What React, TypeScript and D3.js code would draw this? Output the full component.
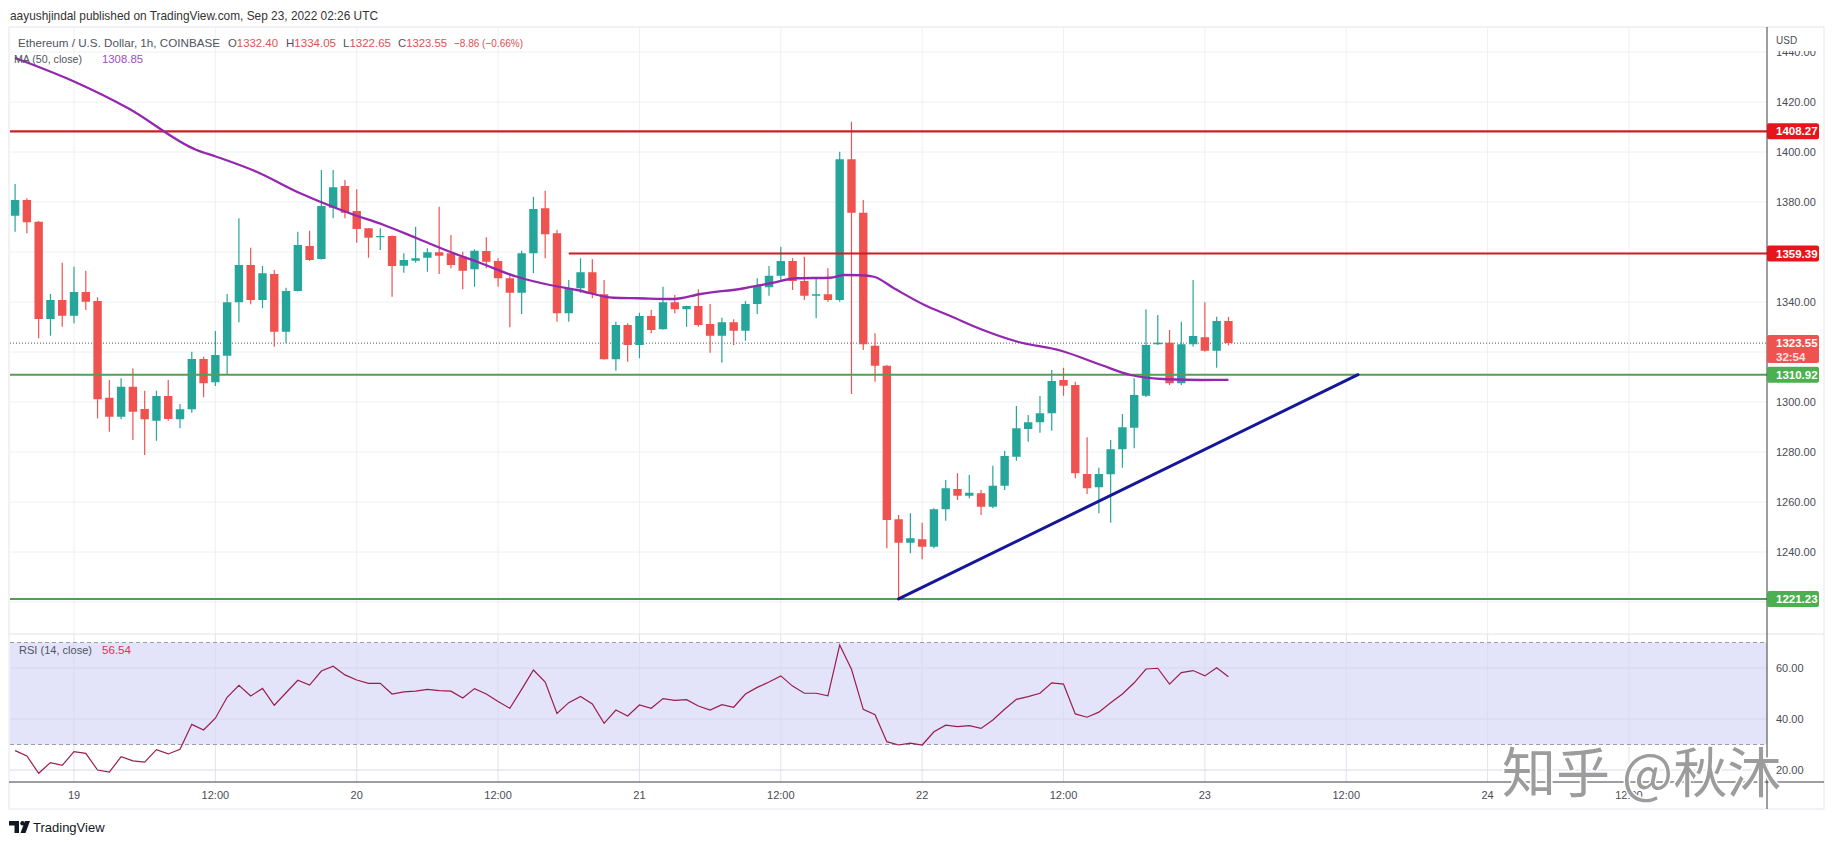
import * as d3 from 'd3'

const W = 1834
const H = 845

// hour index 0 = Sep 19 00:00 UTC, first candle at Sep 18 19:00
const FIRST_HOUR = -5

const OPEN = [
  1374.5, 1380.8, 1372.1, 1333.2, 1340.8, 1334.5, 1344.0, 1340.4, 1301.7, 1294.1,
  1306.1, 1297.2, 1292.5, 1302.4, 1293.1, 1297.1, 1317.2, 1307.9, 1318.5, 1339.9,
  1354.8, 1340.8, 1351.2, 1328.1, 1344.4, 1362.4, 1357.2, 1377.7, 1386.4, 1376.4,
  1369.5, 1365.9, 1366.4, 1354.5, 1356.5, 1357.7, 1359.9, 1359.5, 1358.1, 1353.1,
  1360.4, 1356.4, 1349.5, 1343.7, 1359.5, 1377.5, 1367.5, 1335.5, 1345.5, 1351.9,
  1343.1, 1317.1, 1330.8, 1322.8, 1334.4, 1329.1, 1339.9, 1337.1, 1338.4, 1331.2,
  1326.5, 1331.9, 1328.5, 1339.2, 1345.9, 1350.5, 1356.4, 1348.4, 1342.5, 1343.1,
  1340.8, 1397.1, 1375.7, 1322.5, 1314.5, 1253.1, 1243.7, 1245.1, 1242.1, 1257.1,
  1265.2, 1262.5, 1263.5, 1258.1, 1266.5, 1278.1, 1289.2, 1291.9, 1295.5, 1308.8,
  1306.8, 1271.2, 1265.9, 1271.1, 1281.1, 1289.7, 1302.5, 1323.1, 1323.7, 1307.5,
  1323.1, 1325.9, 1320.5, 1332.4,
]
const HIGH = [
  1387.2, 1381.5, 1372.4, 1343.2, 1355.7, 1354.1, 1352.5, 1341.9, 1308.8, 1309.5,
  1313.5, 1304.5, 1304.5, 1308.8, 1299.2, 1320.1, 1318.1, 1328.4, 1343.2, 1373.5,
  1361.7, 1354.4, 1352.8, 1345.7, 1368.1, 1368.5, 1392.8, 1392.8, 1388.8, 1385.1,
  1369.6, 1369.5, 1366.6, 1359.5, 1370.1, 1361.5, 1378.1, 1366.8, 1360.1, 1361.1,
  1365.9, 1357.5, 1351.5, 1360.5, 1382.1, 1384.5, 1368.8, 1348.8, 1357.5, 1357.1,
  1348.8, 1332.1, 1331.5, 1335.7, 1336.8, 1346.1, 1342.8, 1338.5, 1345.1, 1339.2,
  1333.7, 1333.1, 1340.4, 1349.5, 1354.4, 1362.1, 1357.5, 1358.1, 1349.5, 1353.5,
  1400.1, 1412.1, 1380.8, 1327.5, 1314.8, 1254.8, 1255.5, 1251.7, 1257.5, 1268.8,
  1271.5, 1270.8, 1264.8, 1274.5, 1280.4, 1298.4, 1294.8, 1302.4, 1312.8, 1313.7,
  1308.1, 1285.9, 1273.7, 1284.8, 1295.2, 1309.5, 1337.1, 1334.8, 1328.8, 1332.1,
  1348.8, 1339.9, 1334.1, 1334.05,
]
const LOW = [
  1368.1, 1367.5, 1325.5, 1326.5, 1330.1, 1331.5, 1336.8, 1293.5, 1288.1, 1293.1,
  1284.8, 1278.8, 1284.5, 1292.5, 1289.5, 1295.7, 1301.9, 1306.4, 1311.2, 1331.9,
  1339.1, 1337.5, 1322.1, 1323.5, 1344.2, 1356.4, 1357.0, 1373.5, 1373.5, 1363.7,
  1357.7, 1360.8, 1342.1, 1351.7, 1355.7, 1352.1, 1351.2, 1353.5, 1345.1, 1346.1,
  1353.5, 1346.1, 1329.9, 1335.2, 1351.5, 1357.5, 1332.1, 1332.1, 1343.7, 1341.5,
  1317.0, 1312.5, 1316.1, 1317.5, 1327.5, 1329.0, 1335.5, 1330.1, 1330.1, 1319.7,
  1315.7, 1322.8, 1324.5, 1335.2, 1342.5, 1348.5, 1344.8, 1340.8, 1333.5, 1340.1,
  1340.1, 1303.2, 1320.8, 1308.1, 1241.5, 1221.2, 1239.5, 1237.1, 1241.5, 1252.5,
  1260.8, 1261.5, 1254.8, 1257.5, 1264.8, 1276.5, 1284.1, 1287.7, 1288.5, 1302.5,
  1269.5, 1263.2, 1255.5, 1251.7, 1273.7, 1281.5, 1302.0, 1322.8, 1306.8, 1306.8,
  1322.1, 1320.1, 1313.7, 1322.65,
]
const CLOSE = [
  1380.8, 1371.9, 1333.2, 1340.8, 1334.5, 1344.0, 1340.1, 1301.1, 1294.1, 1306.1,
  1296.1, 1293.1, 1302.4, 1293.2, 1297.1, 1317.2, 1307.5, 1318.8, 1339.9, 1354.8,
  1340.8, 1351.5, 1328.1, 1344.4, 1362.8, 1356.8, 1378.4, 1385.9, 1375.7, 1369.2,
  1365.7, 1366.4, 1354.4, 1356.8, 1357.5, 1359.9, 1358.5, 1354.8, 1352.5, 1360.5,
  1356.1, 1349.5, 1343.7, 1359.5, 1377.2, 1367.1, 1335.5, 1345.5, 1351.9, 1343.2,
  1317.1, 1330.8, 1322.8, 1334.4, 1328.8, 1339.9, 1337.1, 1338.4, 1330.8, 1326.5,
  1331.9, 1328.5, 1339.2, 1346.4, 1350.5, 1356.4, 1348.4, 1342.5, 1343.1, 1340.8,
  1397.1, 1375.7, 1323.1, 1314.5, 1252.8, 1243.7, 1245.5, 1242.1, 1257.1, 1265.5,
  1262.5, 1263.7, 1258.1, 1266.5, 1278.4, 1289.5, 1291.9, 1295.5, 1308.4, 1306.5,
  1271.5, 1265.5, 1271.2, 1281.1, 1289.9, 1302.8, 1322.8, 1323.7, 1307.5, 1323.1,
  1326.4, 1320.5, 1332.4, 1323.55,
]

const RSI = [
  27.6, 25.5, 18.7, 22.9, 21.8, 27.2, 26.5, 20.0, 19.2, 25.2,
  23.6, 23.1, 28.0, 26.3, 28.1, 37.9, 35.7, 40.3, 48.5, 53.2,
  49.0, 52.0, 45.4, 50.3, 55.2, 53.3, 58.8, 60.7, 57.3, 55.3,
  54.0, 54.0, 49.8, 50.6, 50.9, 51.6, 51.1, 50.9, 48.2, 51.9,
  49.8, 46.9, 44.2, 51.6, 59.2, 54.5, 42.2, 46.4, 48.8, 45.9,
  38.3, 43.5, 41.2, 45.5, 44.2, 48.0, 47.3, 47.6, 45.1, 43.5,
  45.6, 44.6, 49.8, 52.4, 54.5, 56.9, 52.9, 50.1, 50.1, 49.1,
  69.0, 59.5, 43.8, 41.7, 31.1, 29.8, 30.5, 29.8, 35.0, 37.6,
  37.0, 37.4, 36.3, 39.6, 43.8, 47.7, 48.8, 50.1, 54.2, 53.7,
  42.0, 40.7, 42.7, 46.4, 49.8, 54.2, 59.6, 59.9, 53.7, 58.2,
  59.0, 56.9, 60.1, 56.54,
]

// MA(50): [hour, value]
const MA_POINTS: [number, number][] = [
  [-5, 1437.6], [0, 1428.2], [4.6, 1417.5], [10.4, 1400.8], [12.1, 1398.1],
  [15.5, 1392.1], [19.2, 1383.5], [20.9, 1380.1], [23.4, 1375.5], [26.3, 1370.8],
  [29.1, 1365.5], [31.9, 1360.1], [34.5, 1355.6], [37.6, 1350.1], [40.4, 1346.8],
  [42.7, 1344.8], [45.8, 1341.7], [47.8, 1341.5], [50.9, 1341.2], [53.2, 1343.2],
  [56.9, 1345.5], [59.1, 1347.5], [61.4, 1349.5], [64.2, 1349.7], [65.4, 1350.8],
  [66.8, 1350.7], [67.9, 1350.1], [69.6, 1345.5], [72.2, 1338.8], [74.4, 1334.4],
  [77, 1329.1], [80.1, 1324.1], [83.8, 1320.5], [87.2, 1314.8], [89.7, 1310.8],
  [92.8, 1309.1], [95.7, 1308.8], [98, 1308.85],
]

const PRICE_GRID = [1220, 1240, 1260, 1280, 1300, 1320, 1340, 1360, 1380, 1400, 1420, 1440]
const PRICE_LABELS = [1240, 1260, 1280, 1300, 1340, 1380, 1400, 1420, 1440]
const RSI_TICKS = [20, 40, 60]
const TIME_TICKS: [number, string][] = [
  [0, '19'], [12, '12:00'], [24, '20'], [36, '12:00'], [48, '21'], [60, '12:00'],
  [72, '22'], [84, '12:00'], [96, '23'], [108, '12:00'], [120, '24'], [132, '12:00'],
]

const RES_HIGH = 1408.27
const RES_MID = 1359.39
const RES_MID_FROM = 42
const SUP_MID = 1310.92
const SUP_LOW = 1221.23
const LAST_PRICE = 1323.55
const TREND: [number, number][] = [[70, 1221.23], [109, 1310.92]]

const UP = '#26a69a'
const DOWN = '#ef5350'
const FONT = '"Liberation Sans", Arial, sans-serif'
const TXT = '#50535e'
const VAL_RED = '#d9534f'

const PANE_L = 10
const AXIS_X = 1767
const FRAME_R = 1824
const TOP = 27
const SPLIT = 634
const BOTTOM = 782
const FRAME_B = 809

export default function App() {
  const x = d3.scaleLinear().domain([0, 120]).range([74, 1487.6])
  const y = d3.scaleLinear().domain([1220, 1440]).range([602, 52])
  const ry = d3.scaleLinear().domain([20, 70]).range([770, 642.5])

  const hours = CLOSE.map((_, i) => FIRST_HOUR + i)
  const bw = 8.4

  const maLine = d3.line<[number, number]>()
    .x(d => x(d[0]))
    .y(d => y(d[1]))
    .curve(d3.curveMonotoneX)

  const rsiLine = d3.line<number>()
    .x((_, i) => x(hours[i]))
    .y(d => ry(d))

  const gridX = TIME_TICKS.map(t => x(t[0])).filter(v => v < AXIS_X)

  const tag = (price: number, fill: string, key: string) => (
    <g key={key}>
      <rect x={AXIS_X} y={y(price) - 8} width={52} height={16} rx={2} fill={fill} />
      <text x={1776} y={y(price)} dy="0.35em" fill="#fff" fontSize={11.5} fontWeight="bold" fontFamily={FONT}>
        {price.toFixed(2)}
      </text>
    </g>
  )

  // legend pieces: label, value, x, width
  const ohlc: [string, string, number, number][] = [
    ['O', '1332.40', 228, 50],
    ['H', '1334.05', 286, 50],
    ['L', '1322.65', 343, 48],
    ['C', '1323.55', 398, 49],
  ]

  return (
    <svg width={W} height={H} style={{ position: 'absolute', left: 0, top: 0, background: '#fff' }} fontFamily={FONT}>
      <defs>
        <clipPath id="main-clip">
          <rect x={PANE_L} y={TOP} width={AXIS_X - PANE_L} height={SPLIT - TOP} />
        </clipPath>
        <clipPath id="rsi-clip">
          <rect x={PANE_L} y={SPLIT} width={AXIS_X - PANE_L} height={BOTTOM - SPLIT} />
        </clipPath>
      </defs>

      <rect width={W} height={H} fill="#fff" />

      {/* header */}
      <text x={10} y={15} dy="0.35em" fontSize={13} fill="#333" textLength={368} lengthAdjust="spacingAndGlyphs">
        aayushjindal published on TradingView.com, Sep 23, 2022 02:26 UTC
      </text>

      {/* frame */}
      <rect x={9} y={TOP} width={FRAME_R - 9} height={FRAME_B - TOP} fill="none" stroke="#e4e6ec" />

      {/* grid */}
      {PRICE_GRID.map(p => (
        <line key={'pg' + p} x1={PANE_L} x2={AXIS_X} y1={y(p)} y2={y(p)} stroke="#eef0f4" />
      ))}
      {gridX.map((gx, i) => (
        <line key={'vg' + i} x1={gx} x2={gx} y1={TOP} y2={SPLIT} stroke="#eef0f4" />
      ))}

      {/* RSI pane background */}
      <rect x={PANE_L} y={ry(70)} width={AXIS_X - PANE_L} height={ry(30) - ry(70)} fill="#e3e3fa" />
      {RSI_TICKS.map(t => (
        <line key={'rg' + t} x1={PANE_L} x2={AXIS_X} y1={ry(t)} y2={ry(t)} stroke="#d6d8ee" />
      ))}
      {gridX.map((gx, i) => (
        <line key={'rvg' + i} x1={gx} x2={gx} y1={SPLIT} y2={BOTTOM} stroke="#d9dbee" strokeOpacity={0.8} />
      ))}
      <line x1={PANE_L} x2={AXIS_X} y1={ry(70)} y2={ry(70)} stroke="#9a9ca6" strokeDasharray="4 3" />
      <line x1={PANE_L} x2={AXIS_X} y1={ry(30)} y2={ry(30)} stroke="#9a9ca6" strokeDasharray="4 3" />

      <g clipPath="url(#main-clip)">
        {/* price line */}
        <line x1={PANE_L} x2={AXIS_X} y1={y(LAST_PRICE)} y2={y(LAST_PRICE)} stroke="#555" strokeDasharray="1 2" />

        {/* candles */}
        {hours.map((h, i) => {
          const o = OPEN[i], c = CLOSE[i]
          const col = c >= o ? UP : DOWN
          const cx = x(h)
          const top = y(Math.max(o, c))
          const bot = y(Math.min(o, c))
          return (
            <g key={'c' + h}>
              <line x1={cx} x2={cx} y1={y(HIGH[i])} y2={y(LOW[i])} stroke={col} strokeWidth={1.2} />
              <rect x={cx - bw / 2} y={top} width={bw} height={Math.max(1.2, bot - top)} fill={col} />
            </g>
          )
        })}

        {/* levels */}
        <line x1={PANE_L} x2={AXIS_X} y1={y(RES_HIGH)} y2={y(RES_HIGH)} stroke="#cc1f24" strokeWidth={2.2} />
        <line x1={x(RES_MID_FROM)} x2={AXIS_X} y1={y(RES_MID)} y2={y(RES_MID)} stroke="#cc1f24" strokeWidth={2} />
        <line x1={PANE_L} x2={AXIS_X} y1={y(SUP_MID)} y2={y(SUP_MID)} stroke="#559c55" strokeWidth={2} />
        <line x1={PANE_L} x2={AXIS_X} y1={y(SUP_LOW)} y2={y(SUP_LOW)} stroke="#559c55" strokeWidth={2} />

        {/* MA */}
        <path d={maLine(MA_POINTS) || ''} fill="none" stroke="#9427b0" strokeWidth={2.3} />

        {/* trendline */}
        <line x1={x(TREND[0][0])} y1={y(TREND[0][1])} x2={x(TREND[1][0])} y2={y(TREND[1][1])} stroke="#16169a" strokeWidth={3} strokeLinecap="round" />
      </g>

      <g clipPath="url(#rsi-clip)">
        <path d={rsiLine(RSI) || ''} fill="none" stroke="#9b1d4c" strokeWidth={1.2} />
      </g>

      {/* pane separators and axes */}
      <line x1={9} x2={FRAME_R} y1={SPLIT} y2={SPLIT} stroke="#e0e3eb" />
      <line x1={9} x2={FRAME_R} y1={BOTTOM} y2={BOTTOM} stroke="#3a3d45" />
      <line x1={AXIS_X} x2={AXIS_X} y1={TOP} y2={FRAME_B} stroke="#3a3d45" />

      {/* legends */}
      <g fontSize={11.5}>
        <text x={18} y={43} dy="0.35em" fill={TXT} textLength={202} lengthAdjust="spacingAndGlyphs">
          Ethereum / U.S. Dollar, 1h, COINBASE
        </text>
        {ohlc.map(([k, v, lx, lw]) => (
          <text key={k} x={lx} y={43} dy="0.35em" fill={VAL_RED} textLength={lw} lengthAdjust="spacingAndGlyphs">
            <tspan fill={TXT}>{k}</tspan>{v}
          </text>
        ))}
        <text x={454} y={43} dy="0.35em" fill={VAL_RED} textLength={69} lengthAdjust="spacingAndGlyphs">
          −8.86 (−0.66%)
        </text>
        <text x={14} y={59} dy="0.35em" fill={TXT} textLength={68} lengthAdjust="spacingAndGlyphs">
          MA (50, close)
        </text>
        <text x={102} y={59} dy="0.35em" fill="#a04cbf" textLength={41} lengthAdjust="spacingAndGlyphs">
          1308.85
        </text>
        <text x={19} y={650} dy="0.35em" fill={TXT} textLength={73} lengthAdjust="spacingAndGlyphs">
          RSI (14, close)
        </text>
        <text x={102} y={650} dy="0.35em" fill="#e0344a" textLength={29} lengthAdjust="spacingAndGlyphs">
          56.54
        </text>
      </g>

      {/* price axis */}
      <g fontSize={11} fill="#4a4c55">
        {PRICE_LABELS.map(p => (
          <text key={'pl' + p} x={1776} y={y(p)} dy="0.35em">{p.toFixed(2)}</text>
        ))}
        <rect x={AXIS_X + 1} y={TOP + 1} width={FRAME_R - AXIS_X - 2} height={23} fill="#fff" />
        <text x={1776} y={40} dy="0.35em" fontSize={10}>USD</text>
        {RSI_TICKS.map(t => (
          <text key={'rl' + t} x={1776} y={ry(t)} dy="0.35em">{t.toFixed(2)}</text>
        ))}
      </g>

      {tag(RES_HIGH, '#e8141b', 'tr1')}
      {tag(RES_MID, '#e8141b', 'tr2')}
      {tag(SUP_MID, '#4caf50', 'tg1')}
      {tag(SUP_LOW, '#4caf50', 'tg2')}
      <g>
        <rect x={AXIS_X} y={335} width={52} height={28} rx={2} fill="#ef5350" />
        <text x={1776} y={y(LAST_PRICE)} dy="0.35em" fill="#fff" fontSize={11.5} fontWeight="bold">1323.55</text>
        <text x={1776} y={357} dy="0.35em" fill="#fde0e0" fontSize={11.5} fontWeight="bold">32:54</text>
      </g>

      {/* time axis */}
      <g fontSize={11} fill="#4a4c55" textAnchor="middle">
        {TIME_TICKS.map(([h, label], i) => (
          <text key={'tl' + i} x={x(h)} y={795} dy="0.35em">{label}</text>
        ))}
      </g>

      {/* TradingView logo */}
      <g fill="#131722">
        <path d="M9 821 h10 v12 h-4.5 v-7.5 h-5.5 z" />
        <circle cx={22.5} cy={823.2} r={2.2} />
        <path d="M25 821 h5 l-4.5 12 h-5 z" />
        <text x={33} y={827} dy="0.35em" fontSize={13} fill="#131722">TradingView</text>
      </g>

      {/* watermark */}
      <text
        x={1502}
        y={772}
        dy="0.38em"
        fontSize={54}
        fontFamily='"Noto Sans CJK SC", sans-serif'
        fill="#9c9c9c"
        stroke="#fff"
        strokeWidth={3}
        style={{ paintOrder: 'stroke' }}
      >
        知乎 @秋沐
      </text>
    </svg>
  )
}
